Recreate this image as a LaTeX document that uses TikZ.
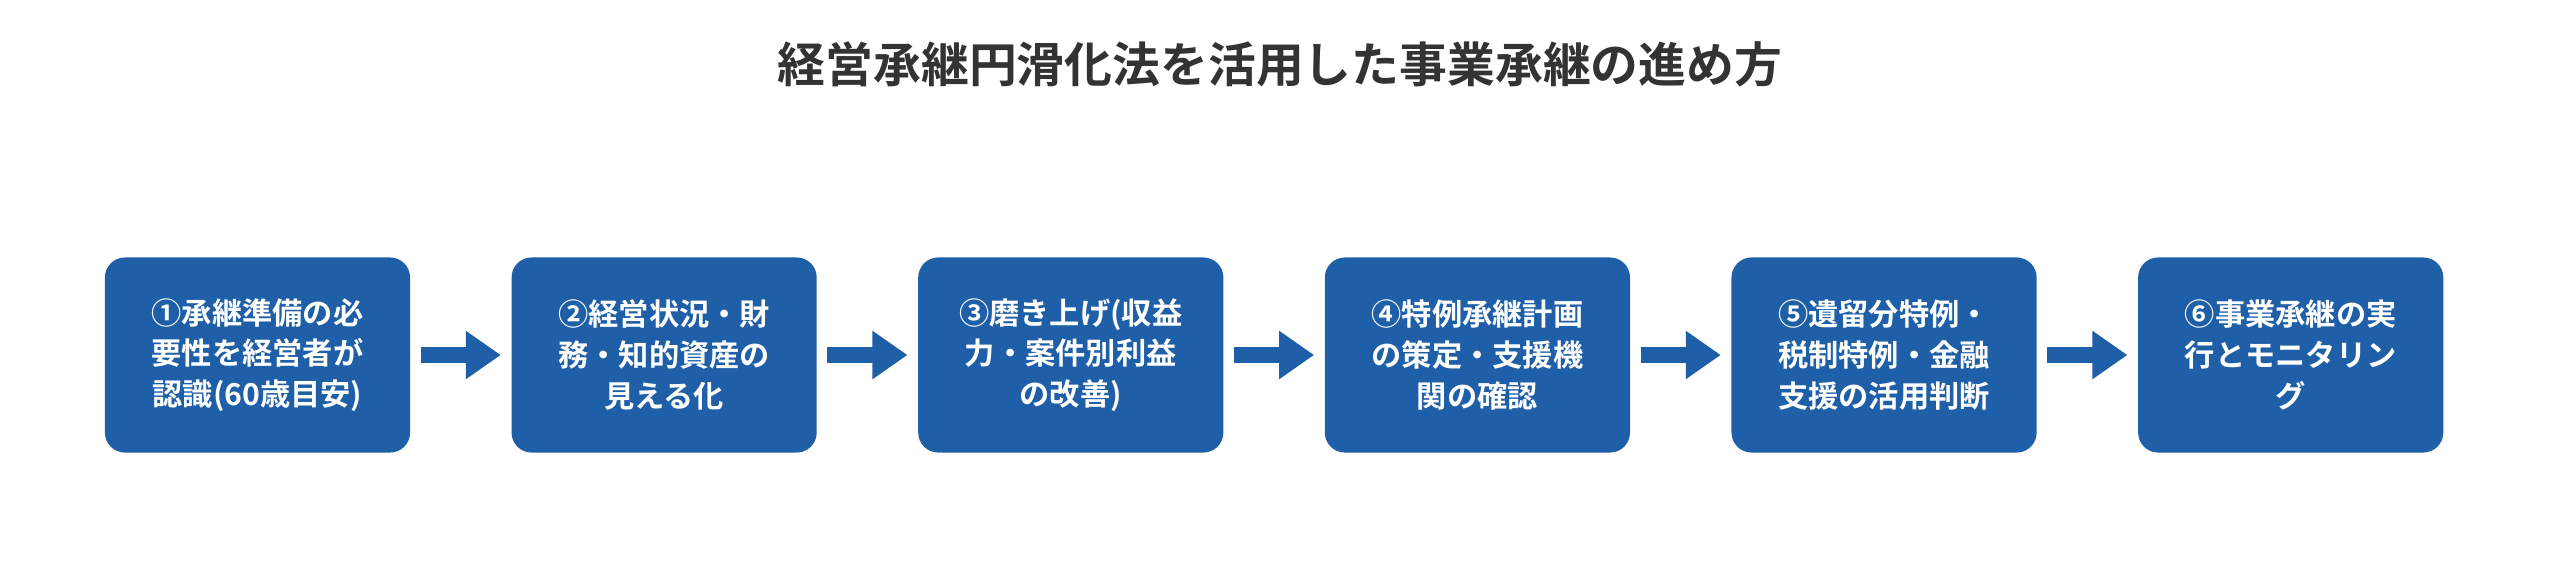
\documentclass[tikz,border=0pt]{standalone}
\usepackage{fontspec}
\setmainfont{Noto Sans CJK JP}[BoldFont={Noto Sans CJK JP Bold}]
\usetikzlibrary{arrows.meta, positioning}
\definecolor{stepblue}{HTML}{1F5FA8}
\definecolor{titlegray}{HTML}{333333}
\begin{document}
\begin{tikzpicture}[x=0.01cm, y=-0.01cm]
  \tikzstyle{stepbox}=[fill=stepblue, rounded corners=0.2cm, minimum width=3.05cm, minimum height=1.95cm, text width=2.8cm, align=center, text=white, font=\bfseries\fontsize{8.6}{11.6}\selectfont, inner sep=0pt]
  \tikzstyle{flow}=[-{Triangle[length=0.35cm, width=0.46cm]}, draw=stepblue, line width=0.16cm, shorten <=0.1cm, shorten >=0.1cm]

  \useasboundingbox (0,0) rectangle (2560,587);
  \node[font=\bfseries\fontsize{13.6}{16}\selectfont, text=titlegray] (title) at (1280,64) {経営承継円滑化法を活用した事業承継の進め方};

  \node[stepbox] (b1) at (257.5,355) {①承継準備の必\\要性を経営者が\\認識(60歳目安)};
  \node[stepbox, right=1.0cm of b1] (b2) {②経営状況・財\\務・知的資産の\\見える化};
  \node[stepbox, right=1.0cm of b2] (b3) {③磨き上げ(収益\\力・案件別利益\\の改善)};
  \node[stepbox, right=1.0cm of b3] (b4) {④特例承継計画\\の策定・支援機\\関の確認};
  \node[stepbox, right=1.0cm of b4] (b5) {⑤遺留分特例・\\税制特例・金融\\支援の活用判断};
  \node[stepbox, right=1.0cm of b5] (b6) {⑥事業承継の実\\行とモニタリン\\グ};

  \foreach \a/\b in {b1/b2, b2/b3, b3/b4, b4/b5, b5/b6}
    \draw[flow] (\a) -- (\b); % arrow between steps
\end{tikzpicture}
\end{document}
